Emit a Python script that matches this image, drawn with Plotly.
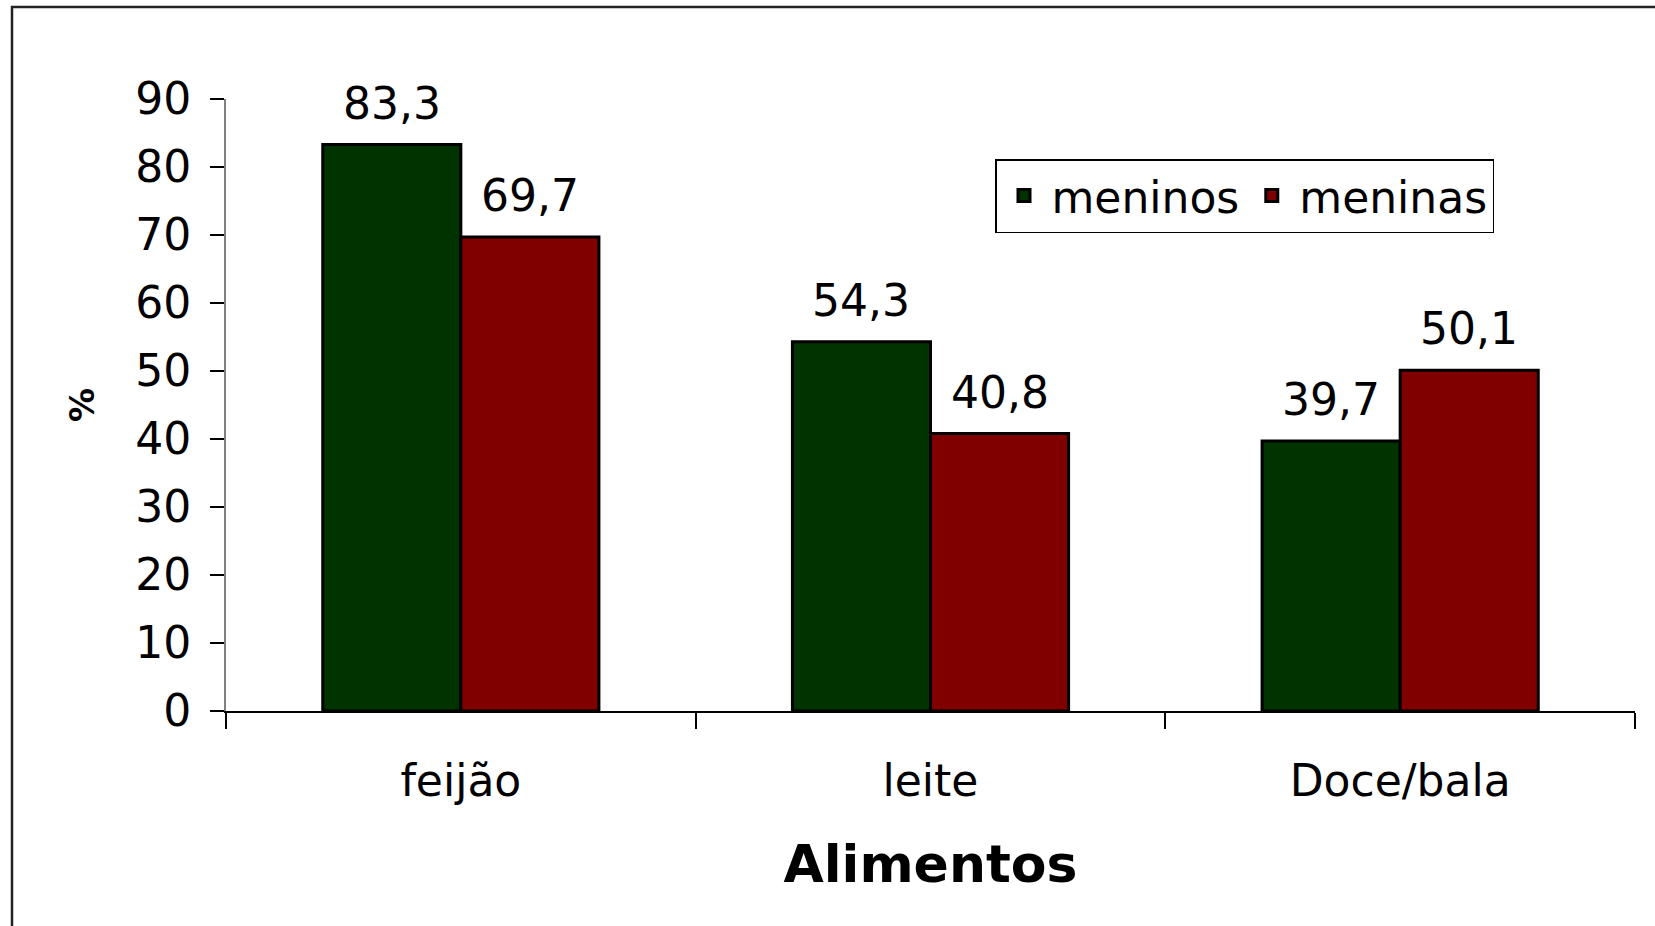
import plotly.graph_objects as go

categories = ["feijão", "leite", "Doce/bala"]
series_names = ["meninos", "meninas"]
meninos = [83.3, 54.3, 39.7]
meninas = [69.7, 40.8, 50.1]
y_ticks = [0, 10, 20, 30, 40, 50, 60, 70, 80, 90]
colors = ["#003300", "#800000"]

FONT = "DejaVu Sans"
W, H = 1655, 926
ML, MR, MT, MB = 226, 20, 99, 215
PW, PH = W - ML - MR, H - MT - MB
BARGAP = 0.412

fig = go.Figure()
for name, vals, col in zip(series_names, [meninos, meninas], colors):
    fig.add_trace(go.Bar(
        x=categories, y=vals, name=name,
        marker=dict(color=col, line=dict(color="black", width=3)),
    ))

# value labels above the bars
half = (1 - BARGAP) / 4
annotations = []
for k, vals in enumerate([meninos, meninas]):
    off = -half if k == 0 else half
    for i, v in enumerate(vals):
        annotations.append(dict(
            x=i + off, y=v, xref="x", yref="y",
            text=f"{v:.1f}".replace(".", ","), showarrow=False,
            yanchor="bottom", yshift=14,
            font=dict(family=FONT, size=44, color="black"),
        ))

def px_x(p):
    return (p - ML) / PW

def px_y(p):
    return (H - MB - p) / PH

fig.update_layout(
    width=W, height=H,
    margin=dict(l=ML, r=MR, t=MT, b=MB, autoexpand=False),
    paper_bgcolor="white", plot_bgcolor="white",
    barmode="group", bargap=BARGAP, bargroupgap=0,
    separators=",.",
    font=dict(family=FONT, color="black"),
    annotations=annotations,
    showlegend=True,
    legend=dict(
        orientation="h", x=px_x(995), y=px_y(159), xanchor="left", yanchor="top",
        bgcolor="white", bordercolor="black", borderwidth=1.5,
        font=dict(family=FONT, size=44, color="black"),
        itemwidth=45, traceorder="normal",
    ),
    shapes=[dict(
        type="rect", xref="paper", yref="paper",
        x0=px_x(12), x1=px_x(1670), y0=px_y(940), y1=px_y(7),
        line=dict(color="#222222", width=2.5), fillcolor="rgba(0,0,0,0)", layer="below",
    )],
)

fig.update_xaxes(
    type="category", tickson="boundaries",
    ticks="outside", ticklen=16, tickwidth=1.5, tickcolor="black",
    showline=True, linecolor="black", linewidth=1.5,
    showgrid=False, zeroline=False,
    tickfont=dict(family=FONT, size=44, color="black"),
    ticklabelstandoff=30,
    title=dict(text="<b>Alimentos</b>", font=dict(family=FONT, size=52, color="black"), standoff=41),
    automargin=False,
)
fig.update_yaxes(
    range=[0, 90], tickvals=y_ticks, ticktext=[str(t) for t in y_ticks],
    ticks="outside", ticklen=14, tickwidth=1.5, tickcolor="black",
    showline=True, linecolor="#808080", linewidth=2,
    showgrid=False, zeroline=False,
    tickfont=dict(family=FONT, size=44, color="black"),
    ticklabelstandoff=10,
    title=dict(text="<b>%</b>", font=dict(family=FONT, size=34, color="black"), standoff=30),
    automargin=False,
)

fig.write_html("out.html")
